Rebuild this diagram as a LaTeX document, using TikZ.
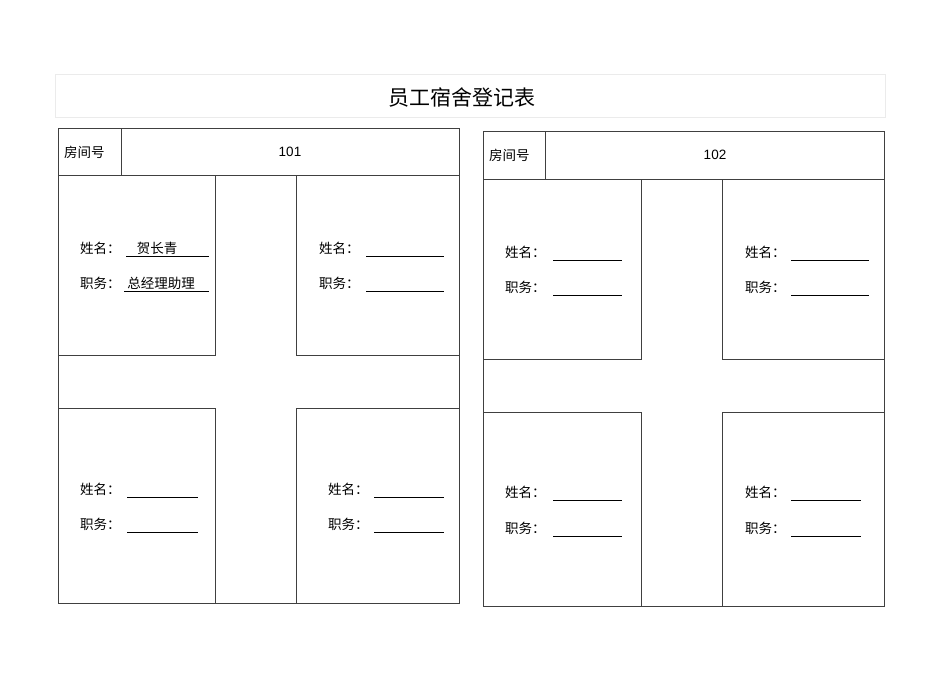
\documentclass[tikz,border=0pt]{standalone}
\usepackage{fontspec}
\setmainfont{Liberation Sans}
\newfontfamily\cjk{Noto Sans CJK SC}
\begin{document}
\begin{tikzpicture}[x=1pt,y=-1pt,
  wall/.style={draw=black!75,line width=0.9pt},
  lbl/.style={anchor=west,inner sep=0pt,font=\cjk\fontsize{13.5}{15}\selectfont},
  val/.style={anchor=south,inner sep=1pt,font=\cjk\fontsize{13.5}{15}\selectfont},
  uline/.style={draw=black,line width=0.7pt}]
\useasboundingbox (0,0) rectangle (950,672);
\node[draw=black!8,line width=0.6pt,minimum width=830pt,minimum height=43pt,anchor=north west,inner sep=0pt] (title) at (55,74) {};
\node[font=\cjk\fontsize{21}{24}\selectfont] (tt) at (462,97) {员工宿舍登记表};
% room 101
\draw[wall] (58,128) rectangle (459,603);
\draw[wall] (58,175) -- (459,175);
\draw[wall] (121,128) -- (121,175);
\node[lbl] (h1) at (64,152) {房间号};
\node[font=\fontsize{13.5}{15}\selectfont] (n1) at (290,152) {101};
\draw[wall] (58,175) rectangle (215,355);
\draw[wall] (296,175) rectangle (459,355);
\draw[wall] (58,408) rectangle (215,603);
\draw[wall] (296,408) rectangle (459,603);
% room 102
\draw[wall] (483,131) rectangle (884,606);
\draw[wall] (483,179) -- (884,179);
\draw[wall] (545,131) -- (545,179);
\node[lbl] (h2) at (489,155) {房间号};
\node[font=\fontsize{13.5}{15}\selectfont] (n2) at (715,155) {102};
\draw[wall] (483,179) rectangle (641,359);
\draw[wall] (722,179) rectangle (884,359);
\draw[wall] (483,412) rectangle (641,606);
\draw[wall] (722,412) rectangle (884,606);
% labels
\newcommand\entry[5]{%
  \node[lbl] at (#1,#2) {#5};
  \draw[uline] (#3,#2+8) -- (#4,#2+8);}
\entry{80}{248}{126}{209}{姓名：}
\entry{80}{283}{124}{209}{职务：}
\node[val] (v1) at (157,256) {贺长青};
\node[val] (v2) at (161,291) {总经理助理};
\entry{319}{248}{366}{444}{姓名：}
\entry{319}{283}{366}{444}{职务：}
\entry{80}{489}{127}{198}{姓名：}
\entry{80}{524}{127}{198}{职务：}
\entry{328}{489}{374}{444}{姓名：}
\entry{328}{524}{374}{444}{职务：}
\entry{505}{252}{553}{622}{姓名：}
\entry{505}{287}{553}{622}{职务：}
\entry{745}{252}{791}{869}{姓名：}
\entry{745}{287}{791}{869}{职务：}
\entry{505}{492}{553}{622}{姓名：}
\entry{505}{528}{553}{622}{职务：}
\entry{745}{492}{791}{861}{姓名：}
\entry{745}{528}{791}{861}{职务：}
\end{tikzpicture}
\end{document}
